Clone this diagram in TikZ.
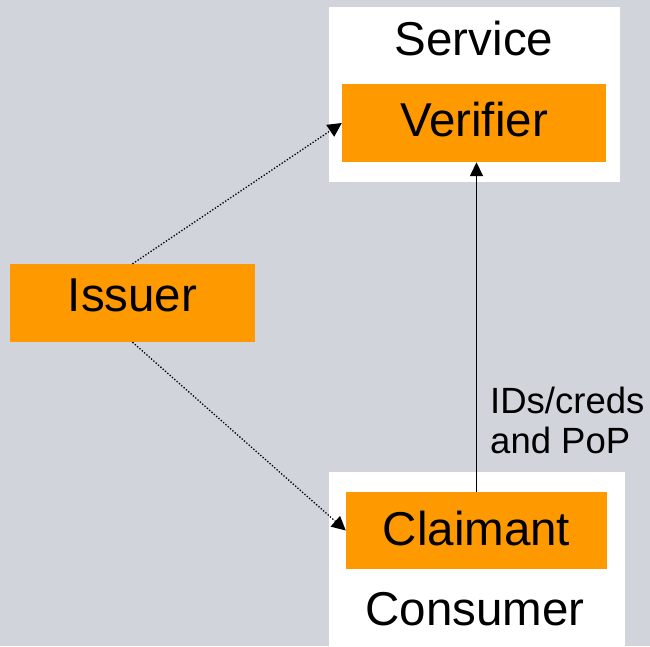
\documentclass[tikz,border=0pt]{standalone}
\usepackage{fontspec}
\setmainfont{Liberation Sans}
\usetikzlibrary{arrows.meta}
\definecolor{bggrey}{HTML}{D1D4DB}
\definecolor{roleorange}{HTML}{FF9900}
\tikzset{
  partybox/.style={fill=white, draw=none, inner sep=0pt, anchor=center},
  rolebox/.style={fill=roleorange, draw=none, inner sep=0pt, anchor=center,
    font=\fontsize{47.5}{52}\selectfont, text height=34pt},
  bigtext/.style={inner sep=0pt, anchor=base, font=\fontsize{47.5}{52}\selectfont},
  trustlink/.style={line width=1.3pt, dash pattern=on 1.3pt off 1.8pt,
    -{Triangle[length=14pt,width=14pt]}},
  flow/.style={line width=1.5pt, -{Triangle[length=14pt,width=13pt]}}
}
\begin{document}
\begin{tikzpicture}[x=1pt,y=-1pt]
  \fill[bggrey] (0,0) rectangle (650,646);
  \useasboundingbox (0,0) rectangle (650,646);

  % relying party and consumer panels
  \node[partybox, minimum width=291pt, minimum height=175pt] (service) at (474.5,94.5) {};
  \node[partybox, minimum width=296pt, minimum height=174pt] (consumer) at (477,559) {};
  \node[bigtext] (servicelbl) at (474,55) {Service};
  \node[bigtext] (consumerlbl) at (475,625) {Consumer};

  % roles
  \node[rolebox, minimum width=264pt, minimum height=78pt, text depth=7pt] (verifier) at (474,123) {Verifier};
  \node[rolebox, minimum width=261pt, minimum height=77pt, text depth=5pt] (claimant) at (476.5,530.5) {Claimant};
  \node[rolebox, minimum width=245pt, minimum height=78pt, text depth=18pt] (issuer) at (132.5,303) {Issuer};

  % connectors
  \draw[trustlink] (issuer.north) -- (verifier.west);
  \draw[trustlink] (issuer.south) -- (claimant.west);
  \draw[flow] (claimant.north) -- (claimant.north |- verifier.south);

  \node[inner sep=0pt, anchor=base west, align=left,
        font=\fontsize{36.5}{40}\selectfont] (flowlbl) at (490,453) {IDs/creds\\and PoP};
\end{tikzpicture}
\end{document}
